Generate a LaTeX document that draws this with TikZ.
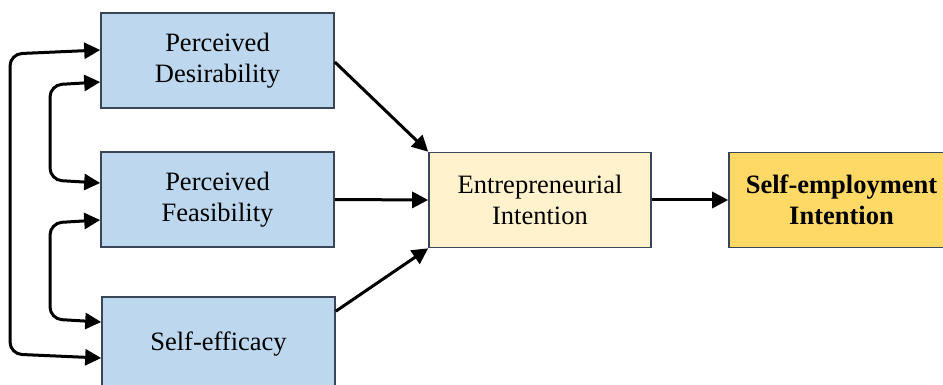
\documentclass[tikz,border=0pt]{standalone}
\usepackage{fontspec}
\setmainfont{Liberation Serif}
\usetikzlibrary{arrows.meta}
\definecolor{bluefill}{HTML}{BDD7EE}
\definecolor{eifill}{HTML}{FFF2CC}
\definecolor{seifill}{HTML}{FFD966}
\definecolor{edge}{HTML}{3A4657}
\tikzset{
  box/.style={draw=edge, line width=1.6pt, minimum height=95pt, inner sep=0pt, align=center,
    font=\fontsize{26.5pt}{31pt}\selectfont},
  lbox/.style={box, fill=bluefill, minimum width=233pt},
  eibox/.style={box, fill=eifill, minimum width=222pt},
  seibox/.style={box, fill=seifill, minimum width=225pt, font=\fontsize{26.5pt}{31pt}\selectfont\bfseries},
  tip/.tip={Triangle[length=16pt,width=16pt]},
  arr/.style={-tip, line width=3pt, black},
  darr/.style={tip-tip, line width=3pt, black, rounded corners=12pt}
}
\begin{document}
\begin{tikzpicture}[x=1pt,y=-1pt]
\clip (0,0) rectangle (943,385);
\fill[white] (0,0) rectangle (943,385);
\node[lbox] (pd) at (217.5,60.5) {Perceived\\Desirability};
\node[lbox] (pf) at (217.5,199.5) {Perceived\\Feasibility};
\node[lbox] (se) at (218.5,344.5) {Self-efficacy};
\node[eibox] (ei) at (540,200) {Entrepreneurial\\Intention};
\node[seibox] (sei) at (841.5,200) {Self-employment\\Intention};
\draw[arr] ([yshift=-1.5pt]pd.east) -- (ei.north west);
\draw[arr] (pf.east) -- (ei.west);
\draw[arr] ([yshift=-15pt]se.north east) -- (ei.south west);
\draw[arr] (ei.east) -- (sei.west);
\draw[darr] ([yshift=10.5pt]pd.west) -- (10,54) -- (10,354) -- ([yshift=-13.5pt]se.west);
\draw[darr] ([yshift=-21.5pt]pd.west) -- (50,85) -- (50,180) -- ([yshift=16.5pt]pf.west);
\draw[darr] ([yshift=-20.5pt]pf.west) -- (50,223) -- (50,319) -- ([yshift=22.5pt]se.west);
\end{tikzpicture}
\end{document}
